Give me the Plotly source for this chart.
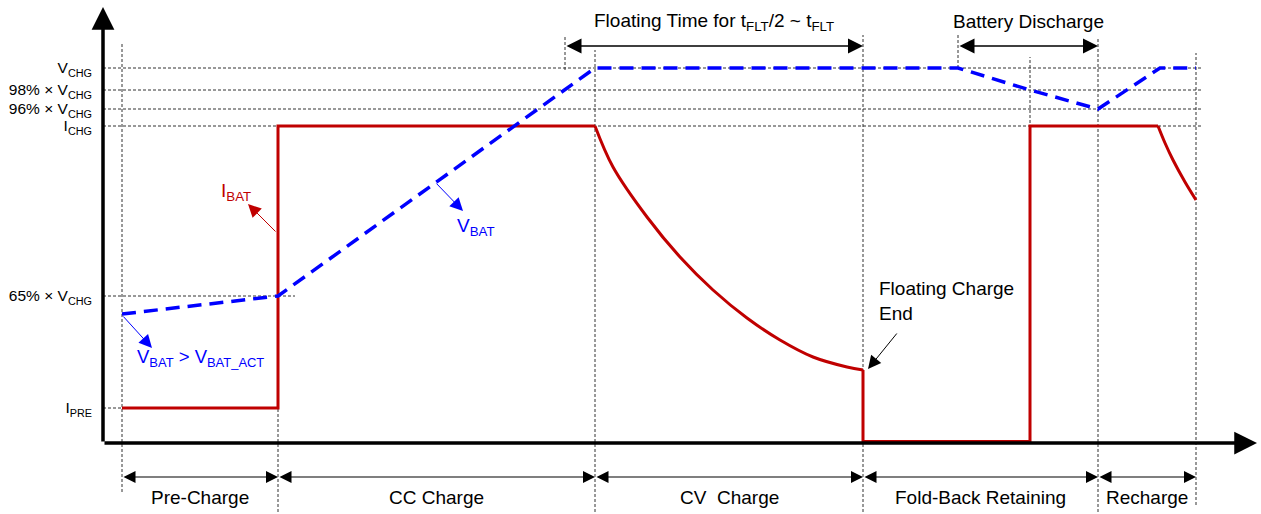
import plotly.graph_objects as go

FONT = "Liberation Sans, Arial, sans-serif"
RED = "#C00000"
BLUE = "#0000FF"

# signal levels (arbitrary units above the time axis)
V_CHG = 3.75
V_98 = 3.53
V_96 = 3.34
I_CHG = 3.17
V_65 = 1.47
I_PRE = 0.35

tick_levels = [V_CHG, V_98, V_96, I_CHG, V_65, I_PRE]
tick_labels = ["V<sub>CHG</sub>", "98% × V<sub>CHG</sub>", "96% × V<sub>CHG</sub>",
               "I<sub>CHG</sub>", "65% × V<sub>CHG</sub>", "I<sub>PRE</sub>"]

# charging phases (time units)
phase_t = [1.9, 17.5, 49.2, 76.0, 99.5, 109.3]
phase_names = ["Pre-Charge", "CC Charge", "CV\u00a0 Charge", "Fold-Back Retaining", "Recharge"]

# I_BAT
ibat_t = [1.9, 17.5, 17.5, 49.2]
ibat_lv = [I_PRE, I_PRE, I_CHG, I_CHG]
cv_t = [49.2, 51.0, 54.4, 57.7, 61.0, 64.4, 67.7, 71.0, 74.4, 76.0]
cv_lv = [3.17, 2.76, 2.26, 1.86, 1.53, 1.25, 1.03, 0.86, 0.76, 0.73]
fold_t = [76.0, 76.0, 92.7, 92.7, 105.5]
fold_lv = [0.73, 0.015, 0.015, I_CHG, I_CHG]
rc_t = [105.5, 106.2, 107.0, 108.2, 109.3]
rc_lv = [3.17, 3.00, 2.83, 2.61, 2.43]

# V_BAT
vbat_t = [1.9, 16.7, 17.5, 49.2, 85.5, 92.7, 99.5, 105.7, 109.3]
vbat_lv = [1.29, 1.455, V_65, V_CHG, V_CHG, V_98, V_96, V_CHG, V_CHG]

# dotted guide lines
vguide_t = [1.9, 17.5, 46.2, 49.2, 76.0, 85.5, 92.7, 99.5, 109.3]
vguide_top = [4.00, 3.17, 4.08, 3.93, 4.08, 4.08, 3.86, 4.06, 3.90]
vguide_bot = [-0.49, -0.69, 3.73, -0.69, -0.69, 3.75, 0.0, -0.69, -0.62]
hguide_lv = [V_CHG, V_98, V_96, I_CHG, V_65, I_PRE]
hguide_end = [110.0, 110.0, 110.0, 110.0, 19.2, 1.9]

# top spans
float_span = [46.2, 76.0]
discharge_span = [85.5, 99.5]

fig = go.Figure()

fig.add_trace(go.Scatter(x=ibat_t, y=ibat_lv, mode="lines", line=dict(color=RED, width=3)))
fig.add_trace(go.Scatter(x=cv_t, y=cv_lv, mode="lines", line=dict(color=RED, width=3, shape="spline")))
fig.add_trace(go.Scatter(x=fold_t, y=fold_lv, mode="lines", line=dict(color=RED, width=3)))
fig.add_trace(go.Scatter(x=rc_t, y=rc_lv, mode="lines", line=dict(color=RED, width=3, shape="spline")))
fig.add_trace(go.Scatter(x=vbat_t, y=vbat_lv, mode="lines",
                         line=dict(color=BLUE, width=3.5, dash="14px,8px")))

guide = dict(color="#333333", width=1, dash="3px,2px")
for t, top, bot in zip(vguide_t, vguide_top, vguide_bot):
    fig.add_shape(type="line", x0=t, x1=t, y0=bot, y1=top, line=guide, layer="below")
for lv, end in zip(hguide_lv, hguide_end):
    fig.add_shape(type="line", x0=0, x1=end, y0=lv, y1=lv, line=guide, layer="below")


def span_arrow(t0, t1, lv, width, size):
    fig.add_annotation(x=t1, y=lv, ax=t0, ay=lv, axref="x", ayref="y", text="",
                       showarrow=True, arrowside="end+start", arrowhead=2, startarrowhead=2,
                       arrowwidth=width, arrowsize=size, startarrowsize=size,
                       arrowcolor="black", standoff=0, startstandoff=0)


# axes with arrow heads
fig.add_annotation(x=115.4, y=0, ax=0, ay=0, axref="x", ayref="y", text="", showarrow=True,
                   arrowhead=2, arrowwidth=3.5, arrowsize=1.3, arrowcolor="black")
fig.add_annotation(x=0, y=4.36, ax=0, ay=0, axref="x", ayref="y", text="", showarrow=True,
                   arrowhead=2, arrowwidth=3.5, arrowsize=1.3, arrowcolor="black")

# phase spans
for i, name in enumerate(phase_names):
    t0, t1 = phase_t[i], phase_t[i + 1]
    span_arrow(t0, t1, -0.34, 1.2, 2)
    fig.add_annotation(x=(t0 + t1) / 2, y=-0.54, text=name, showarrow=False,
                       font=dict(size=19, color="black", family=FONT))

span_arrow(float_span[0], float_span[1], 3.97, 1.5, 2)
fig.add_annotation(x=sum(float_span) / 2, y=4.21,
                   text="Floating Time for t<sub>FLT</sub>/2 ~ t<sub>FLT</sub>",
                   showarrow=False, font=dict(size=19, color="black", family=FONT))
span_arrow(discharge_span[0], discharge_span[1], 3.97, 1.5, 2)
fig.add_annotation(x=sum(discharge_span) / 2, y=4.22, text="Battery Discharge",
                   showarrow=False, font=dict(size=19, color="black", family=FONT))


def pointer(x_tip, y_tip, x_tail, y_tail, color):
    fig.add_annotation(x=x_tip, y=y_tip, ax=x_tail, ay=y_tail, axref="x", ayref="y", text="",
                       showarrow=True, arrowhead=2, arrowwidth=1, arrowsize=2.6,
                       arrowcolor=color, standoff=0)


pointer(14.5, 2.39, 17.4, 2.10, RED)
fig.add_annotation(x=13.3, y=2.51, text="I<sub>BAT</sub>", showarrow=False,
                   font=dict(size=19, color=RED, family=FONT))
pointer(36.0, 2.32, 33.2, 2.61, BLUE)
fig.add_annotation(x=37.3, y=2.16, text="V<sub>BAT</sub>", showarrow=False,
                   font=dict(size=19, color=BLUE, family=FONT))
pointer(4.9, 0.95, 1.9, 1.28, BLUE)
fig.add_annotation(x=3.2, y=0.85, xanchor="left", text="V<sub>BAT</sub> > V<sub>BAT_ACT</sub>",
                   showarrow=False, font=dict(size=18.5, color=BLUE, family=FONT))
pointer(76.5, 0.74, 79.5, 1.11, "black")
fig.add_annotation(x=77.4, y=1.42, xanchor="left", align="left", text="Floating Charge<br>End",
                   showarrow=False, font=dict(size=19, color="black", family=FONT))

fig.update_layout(
    width=1261, height=514,
    margin=dict(l=0, r=0, t=0, b=0),
    plot_bgcolor="white", paper_bgcolor="white",
    showlegend=False,
    xaxis=dict(range=[-10.3, 115.8], visible=False),
    yaxis=dict(range=[-0.71, 4.43], anchor="free", position=103 / 1261,
               tickvals=tick_levels, ticktext=tick_labels, ticks="",
               showgrid=False, zeroline=False, showline=False, ticklabelstandoff=11,
               tickfont=dict(size=15.5, color="black", family=FONT)),
)

fig.write_html("out.html", config={"displayModeBar": False},
               post_script="document.body.style.margin='0';document.body.style.overflow='hidden';")
